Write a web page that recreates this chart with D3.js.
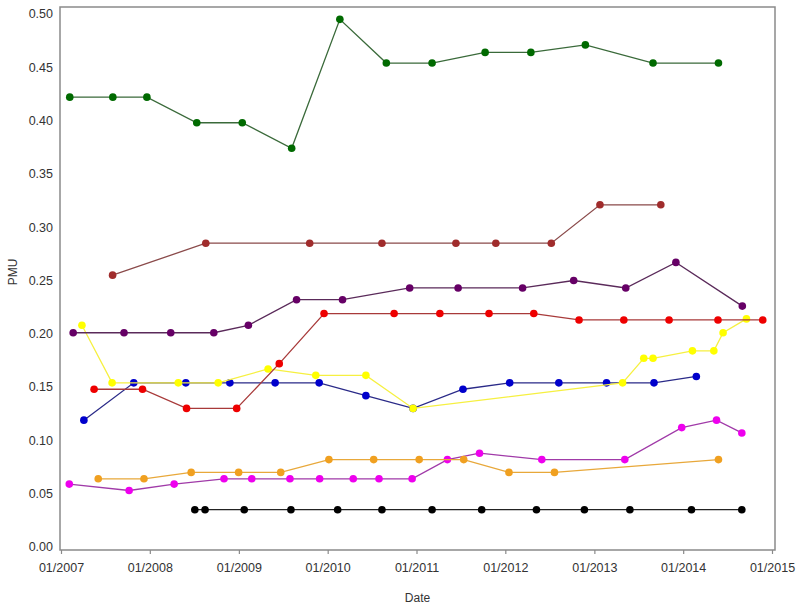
<!DOCTYPE html>
<html>
<head>
<meta charset="utf-8">
<script src="https://cdn.jsdelivr.net/npm/d3@7"></script>
<style>
  body { margin: 0; background: #fff; }
  text { font-family: "Liberation Sans", Arial, sans-serif; }
</style>
</head>
<body>
<div id="chart"></div>
<script>
var width = 800,
    height = 612;

// data
var greenDates = ["2007-02-06","2007-08-02","2007-12-20","2008-07-12","2009-01-15","2009-08-06","2010-02-20","2010-08-30","2011-03-06","2011-10-10","2012-04-15","2012-11-25","2013-08-30","2014-05-26"];
var greenValues = [0.422,0.422,0.422,0.398,0.398,0.374,0.495,0.454,0.454,0.464,0.464,0.471,0.454,0.454];

var brownDates = ["2007-08-01","2008-08-18","2009-10-19","2010-08-12","2011-06-12","2011-11-23","2012-07-08","2013-01-24","2013-10-01"];
var brownValues = [0.255,0.285,0.285,0.285,0.285,0.285,0.285,0.321,0.321];

var purpleDates = ["2007-02-20","2007-09-17","2008-03-27","2008-09-20","2009-02-09","2009-08-26","2010-03-03","2010-12-04","2011-06-21","2012-03-12","2012-10-08","2013-05-10","2013-12-02","2014-09-01"];
var purpleValues = [0.201,0.201,0.201,0.201,0.208,0.232,0.232,0.243,0.243,0.243,0.250,0.243,0.267,0.226];

var redDates = ["2007-05-17","2007-12-02","2008-05-31","2008-12-23","2009-06-16","2009-12-17","2010-10-01","2011-04-07","2011-10-26","2012-04-27","2012-10-30","2013-05-02","2013-11-04","2014-05-24","2014-11-24"];
var redValues = [0.148,0.148,0.130,0.130,0.172,0.219,0.219,0.219,0.219,0.219,0.213,0.213,0.213,0.213,0.213];

var blueDates = ["2007-04-05","2007-10-27","2008-05-28","2008-11-25","2009-05-30","2009-11-27","2010-06-07","2010-12-18","2011-07-11","2012-01-19","2012-08-08","2013-02-20","2013-09-03","2014-02-24"];
var blueValues = [0.119,0.154,0.154,0.154,0.154,0.154,0.142,0.130,0.148,0.154,0.154,0.154,0.154,0.160];

var yellowDates = ["2007-03-28","2007-07-30","2008-04-27","2008-10-08","2009-05-01","2009-11-13","2010-06-07","2010-12-18","2013-04-27","2013-07-23","2013-08-30","2014-02-08","2014-05-07","2014-06-14","2014-09-18"];
var yellowValues = [0.208,0.154,0.154,0.154,0.167,0.161,0.161,0.130,0.154,0.177,0.177,0.184,0.184,0.201,0.214];

var orangeDates = ["2007-06-03","2007-12-08","2008-06-19","2008-12-31","2009-06-22","2010-01-06","2010-07-09","2011-01-12","2011-07-14","2012-01-16","2012-07-21","2014-05-26"];
var orangeValues = [0.064,0.064,0.070,0.070,0.070,0.082,0.082,0.082,0.082,0.070,0.070,0.082];

var magentaDates = ["2007-02-04","2007-10-08","2008-04-10","2008-11-01","2009-02-23","2009-07-30","2009-11-29","2010-04-16","2010-07-31","2010-12-14","2011-05-08","2011-09-17","2012-05-30","2013-05-06","2013-12-26","2014-05-18","2014-08-30"];
var magentaValues = [0.059,0.053,0.059,0.064,0.064,0.064,0.064,0.064,0.064,0.064,0.082,0.088,0.082,0.082,0.112,0.119,0.107];

var blackDates = ["2008-07-04","2008-08-15","2009-01-23","2009-08-03","2010-02-11","2010-08-12","2011-03-06","2011-09-26","2012-05-08","2012-11-21","2013-05-27","2014-02-04","2014-08-30"];
var blackValues = [0.035,0.035,0.035,0.035,0.035,0.035,0.035,0.035,0.035,0.035,0.035,0.035,0.035];

var yTicks = [0, 0.05, 0.10, 0.15, 0.20, 0.25, 0.30, 0.35, 0.40, 0.45, 0.50];
var xTickDates = ["2007-01-01","2008-01-01","2009-01-01","2010-01-01","2011-01-01","2012-01-01","2013-01-01","2014-01-01","2015-01-01"];

var parseDate = d3.timeParse("%Y-%m-%d");

// drawing order: later ones on top
var series = [
    { dates: blackDates, values: blackValues, fill: "#000000", line: "#222222" },
    { dates: magentaDates, values: magentaValues, fill: "#ee00ee", line: "#a03aa8" },
    { dates: orangeDates, values: orangeValues, fill: "#f0a020", line: "#e8a83a" },
    { dates: blueDates, values: blueValues, fill: "#0000cc", line: "#2a2a88" },
    { dates: yellowDates, values: yellowValues, fill: "#ffff00", line: "#f6f040" },
    { dates: redDates, values: redValues, fill: "#ee0000", line: "#a83a3a" },
    { dates: purpleDates, values: purpleValues, fill: "#660066", line: "#5a2a5a" },
    { dates: brownDates, values: brownValues, fill: "#a02c2c", line: "#8a4a4a" },
    { dates: greenDates, values: greenValues, fill: "#006a00", line: "#3a6a3a" }
];

var frame = { left: 60, top: 7, right: 775, bottom: 550 };

var x = d3.scaleTime()
    .domain([parseDate("2007-01-01"), parseDate("2015-01-01")])
    .range([61, 772]);

var y = d3.scaleLinear()
    .domain([0, 0.5])
    .range([547, 14]);

var svg = d3.select("#chart").append("svg")
    .attr("width", width)
    .attr("height", height);

svg.append("rect")
    .attr("x", frame.left)
    .attr("y", frame.top)
    .attr("width", frame.right - frame.left)
    .attr("height", frame.bottom - frame.top)
    .attr("fill", "none")
    .attr("stroke", "#8a8a8a")
    .attr("stroke-width", 1.5);

// y axis labels (no tick marks in the original)
svg.append("g").selectAll("text")
    .data(yTicks)
    .enter().append("text")
    .attr("x", 53)
    .attr("y", function(d) { return y(d); })
    .attr("dy", "0.35em")
    .attr("text-anchor", "end")
    .style("font-size", "12.5px")
    .style("fill", "#333")
    .text(function(d) { return d3.format(".2f")(d); });

// x axis
var xAxis = d3.axisBottom(x)
    .tickValues(xTickDates.map(parseDate))
    .tickFormat(d3.timeFormat("%m/%Y"))
    .tickSize(4)
    .tickPadding(9);

var gx = svg.append("g")
    .attr("transform", "translate(0," + frame.bottom + ")")
    .call(xAxis);
gx.select(".domain").remove();
gx.selectAll(".tick line").attr("stroke", "#8a8a8a").attr("stroke-width", 1.2);
gx.selectAll(".tick text")
    .style("font-size", "12.5px")
    .style("font-family", "'Liberation Sans', Arial, sans-serif")
    .style("fill", "#333");

svg.append("text")
    .attr("x", (frame.left + frame.right) / 2)
    .attr("y", 602)
    .attr("text-anchor", "middle")
    .style("font-size", "12px")
    .style("fill", "#333")
    .text("Date");

svg.append("text")
    .attr("transform", "translate(17," + 272 + ") rotate(-90)")
    .attr("text-anchor", "middle")
    .style("font-size", "12px")
    .style("fill", "#333")
    .text("PMU");

var line = d3.line()
    .x(function(d) { return x(d.date); })
    .y(function(d) { return y(d.value); });

series.forEach(function(s) {
    var pts = s.dates.map(function(d, i) {
        return { date: parseDate(d), value: s.values[i] };
    });
    var g = svg.append("g");
    g.append("path")
        .datum(pts)
        .attr("d", line)
        .attr("fill", "none")
        .attr("stroke", s.line)
        .attr("stroke-width", 1.3);
    g.selectAll("circle")
        .data(pts)
        .enter().append("circle")
        .attr("cx", function(d) { return x(d.date); })
        .attr("cy", function(d) { return y(d.value); })
        .attr("r", 3.8)
        .attr("fill", s.fill);
});
</script>
</body>
</html>
